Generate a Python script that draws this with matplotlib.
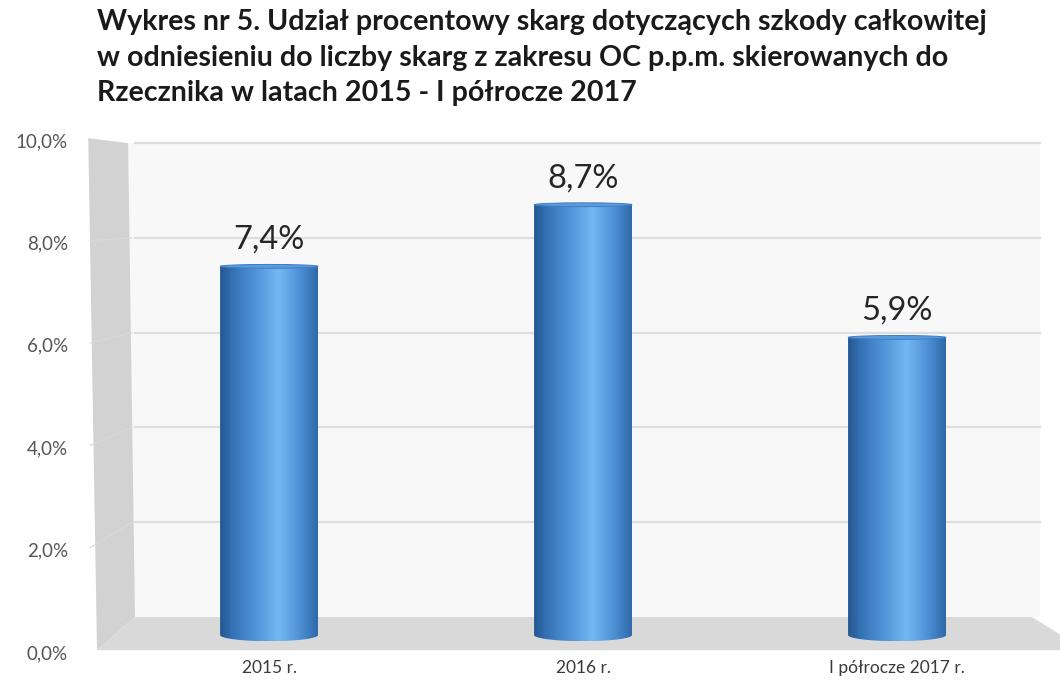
import numpy as np
import matplotlib
matplotlib.use("Agg")
import matplotlib.pyplot as plt
from matplotlib.colors import LinearSegmentedColormap
from matplotlib.patches import Polygon, Ellipse, PathPatch
from matplotlib.path import Path

# data
categories = ["2015 r.", "2016 r.", "I półrocze 2017 r."]
values = [7.4, 8.7, 5.9]
value_labels = ["7,4%", "8,7%", "5,9%"]
y_ticks = [0, 2, 4, 6, 8, 10]
y_tick_labels = ["0,0%", "2,0%", "4,0%", "6,0%", "8,0%", "10,0%"]
title = ("Wykres nr 5. Udział procentowy skarg dotyczących szkody całkowitej\n"
         "w odniesieniu do liczby skarg z zakresu OC p.p.m. skierowanych do\n"
         "Rzecznika w latach 2015 - I półrocze 2017")

plt.rcParams['font.family'] = ['Lato', 'DejaVu Sans']

fig = plt.figure(figsize=(10.6, 6.9), dpi=100)
fig.patch.set_facecolor('white')

# main drawing area: one x unit per category, y in percent on the back wall
ax = fig.add_axes([0, 0, 1, 1])
ax.set_xlim(-0.857, 2.519)
ax.set_ylim(-1.54, 13.02)
ax.axis('off')

ymax = 10
wall_left, wall_right = -0.427, 2.455
floor_front = -0.70

# back wall
ax.add_patch(Polygon([(wall_left, 0), (wall_right, 0), (wall_right, ymax), (wall_left - 0.022, ymax)],
                     closed=True, facecolor='#f8f8f8', edgecolor='none', zorder=1))
for t in y_ticks[1:]:
    ax.plot([wall_left, wall_right], [t, t], color='#dedede', lw=1.6, zorder=2)

# side wall with its grid lines
side = [(-0.576, ymax + 0.105), (wall_left - 0.022, ymax), (wall_left, 0), (-0.548, floor_front)]
ax.add_patch(Polygon(side, closed=True, facecolor='#d2d2d2', edgecolor='none', zorder=2))
for t in y_ticks[1:-1]:
    front = floor_front + t * (ymax + 0.105 - floor_front) / ymax
    ax.plot([-0.57, wall_left - 0.01], [front, t], color='#d9d9d9', lw=0.8, zorder=3)

# floor
ax.add_patch(Polygon([(wall_left, 0), (2.43, 0), (2.60, floor_front), (-0.548, floor_front)],
                     closed=True, facecolor='#d9d9d9', edgecolor='none', zorder=2))

# cylinders
cyl = LinearSegmentedColormap.from_list('cyl', [
    (0.0, '#24578f'), (0.12, '#3470b3'), (0.35, '#4f92d6'),
    (0.6, '#74b8f4'), (0.82, '#4d8fd4'), (1.0, '#2f69a8')])
grad = np.linspace(0, 1, 256).reshape(1, -1)
w = 0.312
base = -0.38
ry_bottom = 0.13
ry_top = 0.04
for i, v in enumerate(values):
    x0, x1 = i - w / 2, i + w / 2
    th = np.linspace(np.pi, 2 * np.pi, 40)
    bottom = [(i + w / 2 * np.cos(a), base + ry_bottom * np.sin(a)) for a in th]
    verts = [(x0, v)] + bottom + [(x1, v), (x0, v)]
    clip = PathPatch(Path(verts, closed=True), facecolor='none', edgecolor='none')
    ax.add_patch(clip)
    im = ax.imshow(grad, cmap=cyl, aspect='auto', extent=[x0, x1, base - ry_bottom, v],
                   interpolation='bicubic', zorder=4)
    im.set_clip_path(clip)
    ax.add_patch(Ellipse((i, v), w, 2 * ry_top, facecolor='#5a9be0',
                         edgecolor='#3f7cc0', lw=0.7, zorder=5))
    ax.annotate(value_labels[i], (i, v + ry_top), xytext=(0, 7), textcoords='offset points',
                ha='center', va='bottom', fontsize=23.5, color='#262626', zorder=6)

# category labels
for i, c in enumerate(categories):
    ax.text(i, -1.08, c, ha='center', va='center', fontsize=12.5, color='#3a3a3a')

# percentage scale on the front edge of the side wall
ax2 = fig.add_axes([0.064, 1 - 652 / 690, 0.001, (652 - 140) / 690])
ax2.set_ylim(0, 10)
ax2.set_yticks(y_ticks)
ax2.set_yticklabels(y_tick_labels, fontsize=13.5, color='#555555')
ax2.tick_params(axis='y', length=0, pad=0)
ax2.set_xticks([])
for s in ax2.spines.values():
    s.set_visible(False)
ax2.patch.set_visible(False)

fig.text(0.0915, 1 - 9 / 690, title, ha='left', va='top', fontsize=20.6, fontweight='bold',
         color='#1a1a1a', linespacing=1.46)

fig.savefig("out.png", dpi=100)
